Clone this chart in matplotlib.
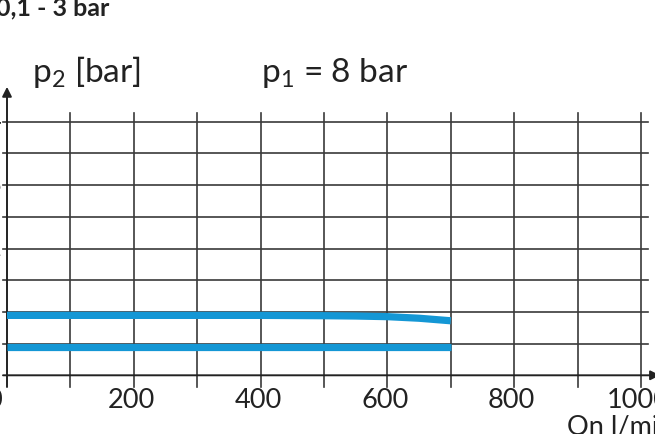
import numpy as np
import matplotlib.pyplot as plt

plt.rcParams['font.family'] = ['Lato', 'DejaVu Sans']
plt.rcParams['mathtext.fontset'] = 'custom'
plt.rcParams['mathtext.rm'] = 'Lato'

# flow Qn [l/min] and outlet pressure p2 [bar] at p1 = 8 bar
flow = [0, 100, 200, 300, 400, 500, 550, 600, 650, 700]
p2_high = [0.945, 0.945, 0.945, 0.945, 0.945, 0.94, 0.935, 0.925, 0.90, 0.86]
p2_low = [0.44, 0.44, 0.44, 0.44, 0.44, 0.44, 0.44, 0.44, 0.44, 0.44]

x_ticks = [0, 200, 400, 600, 800, 1000]
y_ticks = [1, 2, 3, 4]
x_grid = np.arange(100, 1001, 100)
y_grid = np.arange(0.5, 4.01, 0.5)

fig = plt.figure(figsize=(6.55, 4.34), dpi=100)
ax = fig.add_axes([0, 0, 1, 1])
ax.set_xlim(-11.04, 1022.1)
ax.set_ylim(-0.926, 5.92)
ax.axis('off')

grid_col = '#3a3a3a'
for yg in y_grid:
    ax.plot([-6.3, 1011], [yg, yg], color=grid_col, lw=1.2, zorder=1)
for xg in x_grid:
    ax.plot([xg, xg], [-0.185, 4.14], color=grid_col, lw=1.2, zorder=1)

# axes with arrows
ax.annotate('', xy=(0, 4.55), xytext=(0, -0.185),
            arrowprops=dict(arrowstyle='-|>', color='#222222', lw=1.4,
                            mutation_scale=14, shrinkA=0, shrinkB=0))
ax.annotate('', xy=(1030, 0), xytext=(-6.3, 0),
            arrowprops=dict(arrowstyle='-|>', color='#222222', lw=1.4,
                            mutation_scale=14, shrinkA=0, shrinkB=0),
            annotation_clip=False)

blue = '#1497d5'
ax.plot(flow, p2_high, color=blue, lw=5.2, solid_capstyle='butt', zorder=3)
ax.plot(flow, p2_low, color=blue, lw=5.2, solid_capstyle='butt', zorder=3)

for xt in x_ticks:
    if xt == 0:
        ax.text(-8, -0.4, '0', ha='right', va='center', fontsize=19.5, color='#222222')
    else:
        ax.text(xt - 4, -0.4, str(xt), ha='center', va='center', fontsize=19.5,
                color='#222222')
for yt in y_ticks:
    ax.text(-9, yt, str(yt), ha='right', va='center', fontsize=19.5, color='#222222')

ax.text(883, -0.82, 'Qn l/min', ha='left', va='center', fontsize=19.5, color='#222222')

ax.text(40, 4.63, r'p$_\mathrm{2}$ [bar]', ha='left', va='baseline', fontsize=24,
        color='#222222')
ax.text(400, 4.63, r'p$_\mathrm{1}$ = 8 bar', ha='left', va='baseline', fontsize=24,
        color='#222222')
ax.text(-18, 5.68, '0,1 - 3 bar', ha='left', va='baseline', fontsize=18,
        fontweight='bold', color='#222222')

fig.savefig('out.png', dpi=100)
